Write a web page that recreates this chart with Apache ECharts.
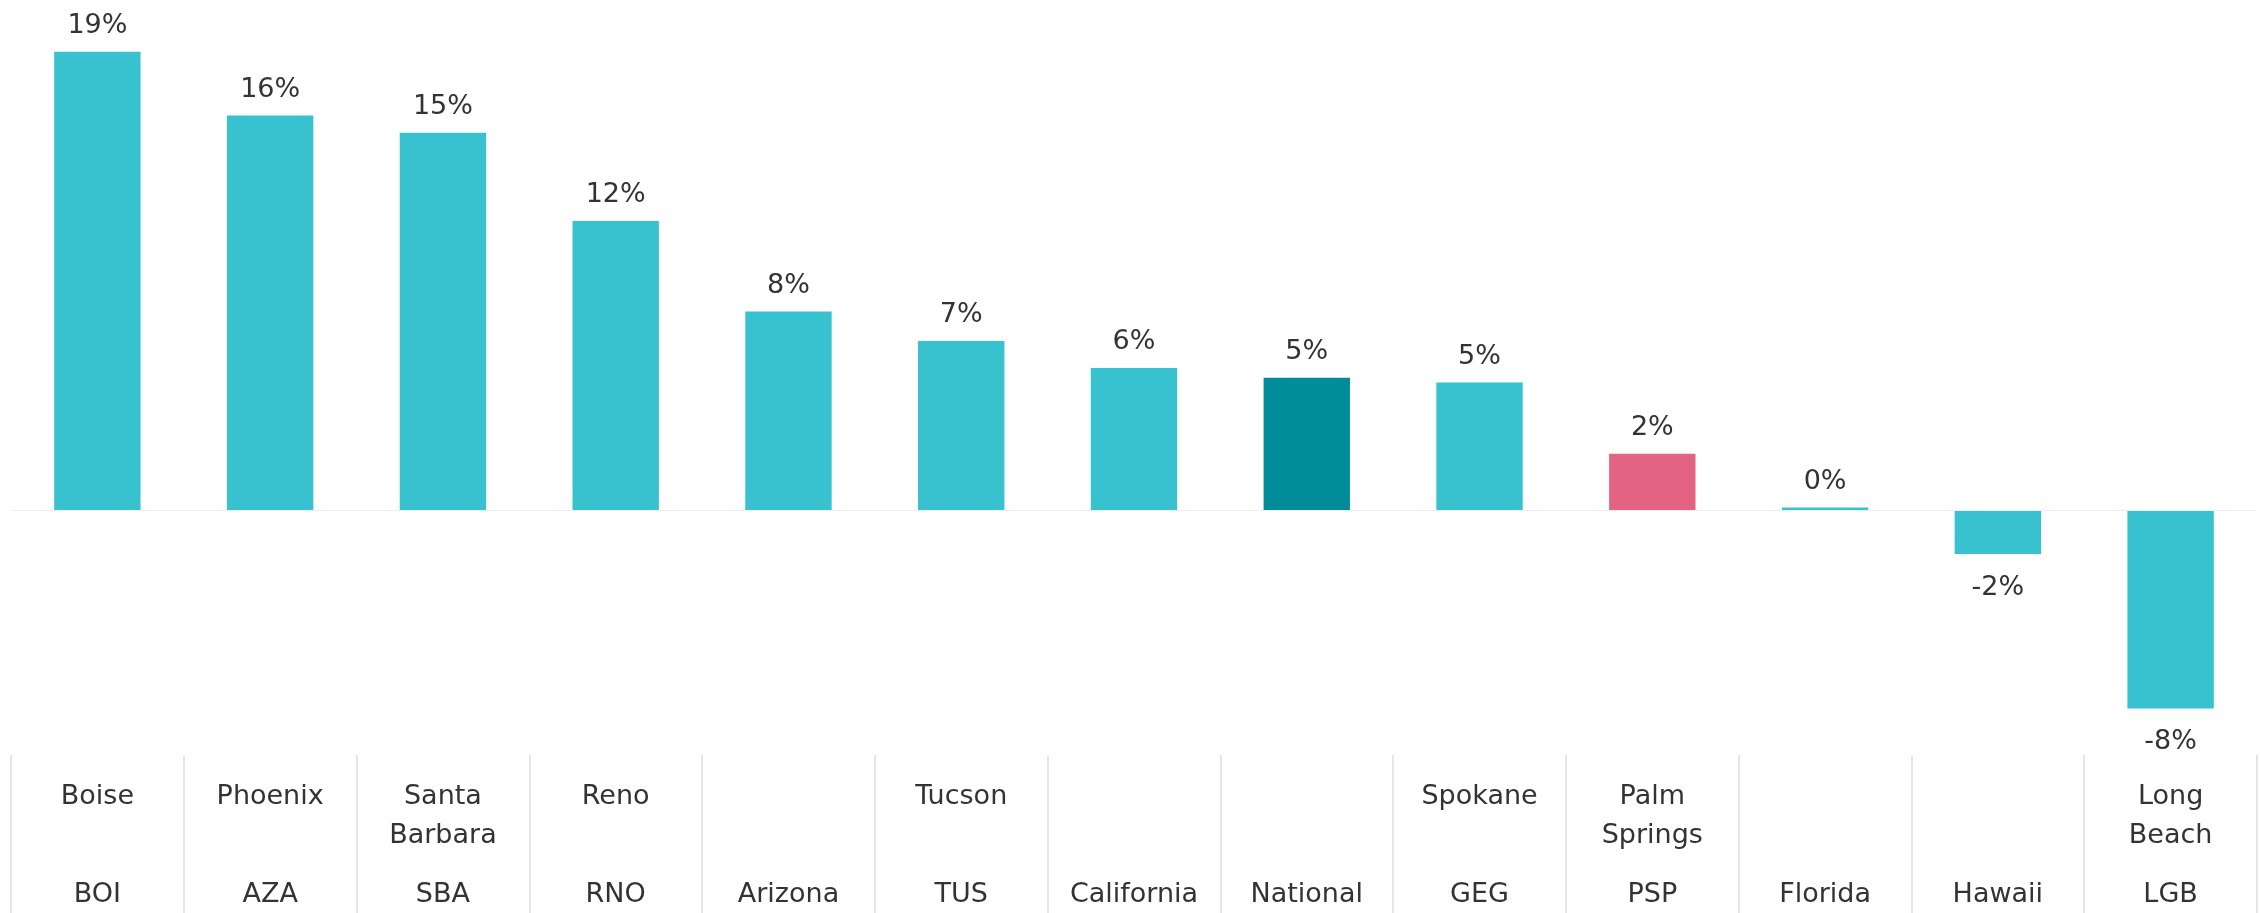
<!DOCTYPE html>
<html>
<head>
<meta charset="utf-8">
<script src="https://cdn.jsdelivr.net/npm/echarts@6/dist/echarts.min.js"></script>
<style>
  html, body { margin: 0; padding: 0; background: #fff; }
  #root { width: 2260px; height: 913px; }
</style>
</head>
<body>
<div id="root"></div>
<script>
// city names (first row), blank when the market only has a region label
var cityNames = ['Boise', 'Phoenix', 'Santa\nBarbara', 'Reno', '', 'Tucson', '', '', 'Spokane', 'Palm\nSprings', '', '', 'Long\nBeach'];
// airport codes / region names (bottom row)
var codes = ['BOI', 'AZA', 'SBA', 'RNO', 'Arizona', 'TUS', 'California', 'National', 'GEG', 'PSP', 'Florida', 'Hawaii', 'LGB'];
// percent change
var changes = [18.7, 16.1, 15.4, 11.8, 8.1, 6.9, 5.8, 5.4, 5.2, 2.3, 0.1, -1.8, -8.1];

var barColor = '#38C1CF';
// special colours
var colorByCode = {
  National: '#008C99',
  PSP: '#E36382'
};
var font = '"DejaVu Sans", sans-serif';

var myChart = echarts.init(document.getElementById('root'));

var option = {
  backgroundColor: '#fff',
  animation: false,
  grid: {
    left: 11,
    right: 3,
    top: 20,
    bottom: 158
  },
  xAxis: {
    type: 'category',
    data: codes,
    axisLine: { show: false, onZero: false },
    axisTick: {
      show: true,
      length: 158,
      lineStyle: { color: '#e6e6e6', width: 2 }
    },
    axisLabel: {
      interval: 0,
      margin: 22,
      formatter: function(value, index) {
        var lines = cityNames[index] ? cityNames[index].split('\n') : [];
        while (lines.length < 2) lines.push(' ');
        return '{n|' + lines[0] + '}\n{n|' + lines[1] + '}\n{c|' + value + '}';
      },
      rich: {
        n: { fontFamily: font, fontSize: 27, color: '#333', lineHeight: 39 },
        c: { fontFamily: font, fontSize: 27, color: '#333', lineHeight: 79 }
      }
    }
  },
  yAxis: {
    type: 'value',
    min: -10,
    max: 20,
    interval: 10,
    show: false,
    splitLine: { show: false }
  },
  series: [
    {
      type: 'bar',
      barWidth: '50%',
      data: changes.map(function(v, i) {
        return {
          value: v,
          itemStyle: { color: colorByCode[codes[i]] || barColor },
          label: {
            position: v < 0 ? 'bottom' : 'top',
            distance: v < 0 ? 20 : 12
          }
        };
      }),
      label: {
        show: true,
        fontFamily: font,
        fontSize: 27,
        color: '#333',
        formatter: function(p) {
          return Math.round(p.value) + '%';
        }
      },
      markLine: {
        silent: true,
        symbol: 'none',
        label: { show: false },
        lineStyle: { color: '#eeeeee', width: 1, type: 'solid' },
        data: [{ yAxis: 0 }]
      }
    }
  ]
};

myChart.setOption(option);
</script>
</body>
</html>
